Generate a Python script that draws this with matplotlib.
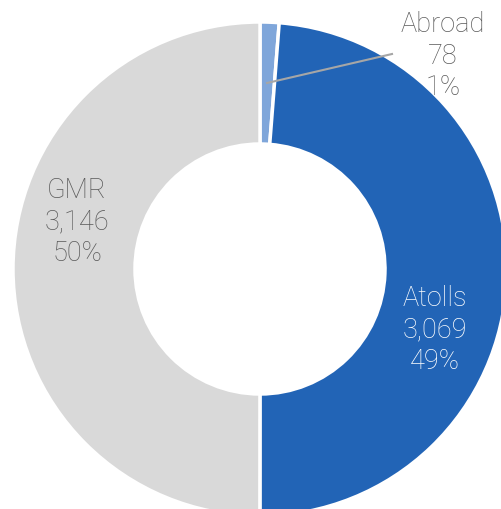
import matplotlib
matplotlib.use("Agg")
import matplotlib.pyplot as plt

# data
regions = ["Abroad", "Atolls", "GMR"]
counts = [78, 3069, 3146]
colors = ["#7FA6DA", "#2264B6", "#D9D9D9"]

total = sum(counts)
pcts = [round(c / total * 100) for c in counts]

fig = plt.figure(figsize=(5.01, 5.10), dpi=100)
ax = fig.add_axes([0, 0, 1, 1])

cx, cy, r = 260, 240, 247
ax.pie(counts, colors=colors, startangle=90, counterclock=False,
       center=(cx, cy), radius=r, frame=True,
       wedgeprops=dict(width=122, edgecolor="white", linewidth=2.5))
ax.set_xlim(0, 501)
ax.set_ylim(0, 510)
ax.set_aspect("equal")
ax.axis("off")

font = dict(family="Roboto", fontweight="light", fontsize=19.5,
            ha="center", va="center", linespacing=1.2)

labels = [f"{n}\n{c:,}\n{p}%" for n, c, p in zip(regions, counts, pcts)]
ax.text(443, 454, labels[0], color="#595959", **font)
ax.text(435, 180, labels[1], color="white", **font)
ax.text(77, 288, labels[2], color="#595959", **font)

# leader line for the small slice
ax.plot([267, 392], [510 - 84, 510 - 55], color="#A6A6A6", lw=1.5)

fig.savefig("out.png", dpi=100)
